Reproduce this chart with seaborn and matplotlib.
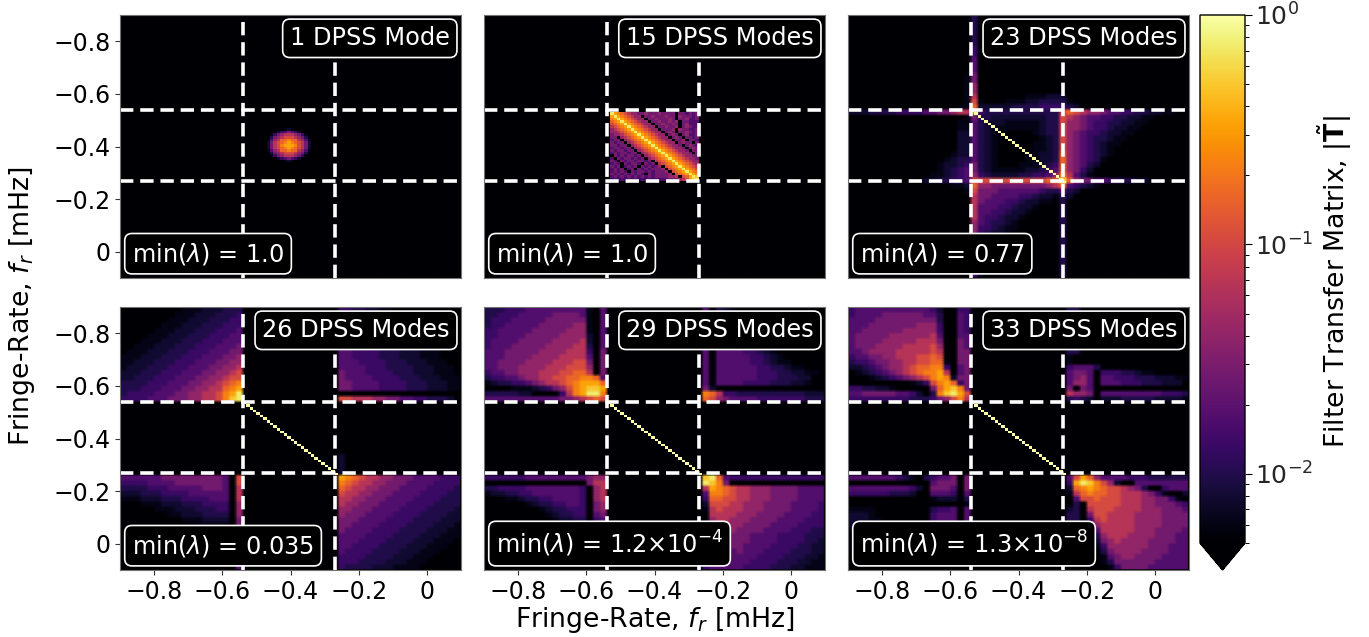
import numpy as np
import pandas as pd
import matplotlib
matplotlib.use("Agg")
import matplotlib.pyplot as plt
from matplotlib.colors import LogNorm
from matplotlib.cm import ScalarMappable
from matplotlib.collections import QuadMesh
from matplotlib.transforms import Affine2D
from matplotlib.ticker import NullFormatter, LogLocator
import seaborn as sns

sns.set_theme(style="ticks", font="DejaVu Sans")

# Estimated colour levels: one hex digit per cell.
LEVEL_VALUES = [0.004, 0.0062, 0.0078, 0.0098, 0.0130, 0.018, 0.027, 0.041,
                0.066, 0.105, 0.16, 0.23, 0.34, 0.50, 0.72, 0.99]

TITLES = ["1 DPSS Mode", "15 DPSS Modes", "23 DPSS Modes",
          "26 DPSS Modes", "29 DPSS Modes", "33 DPSS Modes"]
MIN_LAMBDA = [r"min($\lambda$) = 1.0", r"min($\lambda$) = 1.0", r"min($\lambda$) = 0.77",
              r"min($\lambda$) = 0.035", r"min($\lambda$) = 1.2$\times$10$^{-4}$",
              r"min($\lambda$) = 1.3$\times$10$^{-8}$"]
EDGES_MHZ = [-0.54, -0.27]
TICKS_MHZ = [-0.8, -0.6, -0.4, -0.2, 0.0]
TICK_LABELS = ["\u22120.8", "\u22120.6", "\u22120.4", "\u22120.2", "0"]

BLOB_1 = ["0000012100000", "0002456542000", "0146788876410", "0367899987630",
          "1578aabaa8751", "2689abcba9862", "2689bcccb9862", "2689abcba9862",
          "1578aabaa8751", "0367899987630", "0146788876410", "0002456542000",
          "0000012100000"]

BLOCK_15 = [
 "ecba9 87766 76667 66660 66565 6", "cecba 98770 66766 67660 76665 6",
 "bcecb a9877 06676 66760 66755 6", "abcec ba987 70667 66767 06655 5",
 "9abce cba98 77066 76676 06755 5", "89abc ecba9 87706 67667 06765 5",
 "789ab cecba 98770 66670 76655 6", "7789a bcecb a9877 06760 66765 6",
 "67789 abcec ba987 70676 06755 6", "66078 9abce cba98 77067 60665 6",
 "56607 89abc ecba9 87706 67066 5", "65660 789ab cecba 98770 67660 6",
 "66566 0789a bcecb a9877 60676 5", "56656 60789 abcec ba987 76067 6",
 "65665 66078 9abce cba98 77606 6", "56566 56607 89abc ecba9 87760 6",
 "06565 66560 789ab cecba 98776 6", "50656 65656 0789a bcecb a9877 6",
 "65065 66566 56089 abcec ba987 7", "56506 56650 65608 9abce cba98 7",
 "65605 65606 56567 09abc ecba9 8", "56560 56065 65666 709ab cecba 9",
 "56565 06566 56566 6709a bcecb a", "65656 56565 06566 66709 abcec b",
 "56565 65656 56566 66778 09ace d", "45454 54545 45454 55666 789cd e"]

# Rows are "left|middle|right" for the regions split by the two band edges.
ROWS_23 = [
 "|3|", "|3|", "|3|", "|3|", "|3|", "|3|", "|4|", "|4|", "|5|", "|5|", "|5|",
 "1|6|", "1|6|", "1|7|", "1|7|",
 "1|80000000111222|", "1|91000111223333|1", "11|a2222233334444|32",
 "222333344445566788|b4333333333339|a987765544332211",
 "1|63322222222339|8765544332211", "11|53222111112339|776544332211",
 "11|53211111112339|77654432211", "22|53210000012339|7654432211",
 "22|53210000001239|765433211", "22|53210000011239|76543211",
 "22|53210000011239|7654321", "122|5321000011223a|7654321",
 "1233|5321000011223a|765431", "12234|6321000111234a|76532",
 "12345|63211111223 45a|7642", "112345|74322223344 57b|8531",
 "2233445|99999999999aae|a766554433221 1", "112|a776666666678a|54321",
 "1|96665555554335|32", "|86655554432213|2", "|86555443221103|", "|85554432210003|",
 "|85544322100003|", "|85443221000003|", "|75433210000003|", "|74432110000003|",
 "|74322100000003|", "|64321000000003|", "|64211000000003|", "|63210000000003|",
 "|53100000000003|", "|52100000000003|", "|52000000000003|", "|51000000000003|",
 "|41000000000003|"]

ROWS_26 = [
 "000000000111222333||44332211", "000000001112223334||4433322111",
 "000000011122233344||44433322211", "000000111222333444||444333222111",
 "000001112223334445||4444333222111", "000011122233344455||54443332221111",
 "000111222333444555||544443332221110", "001112223334445556||5544433322211110",
 "011122233344455566||55444433322211100", "111222333444555667||554444333222111",
 "112223334445556677||555444433322211100", "122233344455566778||555544433332221110",
 "222333444555667789||655544443332221110", "223334445556677899||655554444333222111",
 "333344455566778 9ab||665555444433322211", "333444555667788abc||665555444433322211",
 "344445556677889bce||", "444455566677889bde||998887766554433 32",
 "||", "||", "||", "||", "||", "||", "||", "||", "||", "||",
 "||2", "||2", "||2", "||2",
 "555555666666666509||cba988776665555444", "444455556666666509||ba9887766655554444",
 "333344455555666508||a98877666555544443", "222333444455555508||988776665555444433",
 "111222333444455508||887766655554444333", "000111222333444407||877666555544443333",
 "000001112223334407||776665555444433332", "000000011222333307||766655554444333322",
 "000000000111222206||666555544443333222", "000000000001111106||665555444433332221",
 "6||655554444333322211", "6||555544443333222111", "5||555444433332221110",
 "5||554444333322211100", "5||544443333222111000", "5||444433332221110000",
 "5||444333322211100000", "5||433332221111000000"]

ROWS_29 = [
 "333444555555555105||50321", "334445555566665105||503321", "344455555666666105||5034321",
 "344555556666677105||5034432", "445555566666777105||50454321", "445555666667777205||504554321",
 "455556666677778205||505555321", "455566666777788305||5055554321",
 "555666667777888406||50555544321", "555666677778888506||505555544321",
 "556666777788899606||5055555443211", "556667777888999706||505555554433211",
 "455667778889 9aa806||50555555444332211", "344556778899aabba5||5055555544433322",
 "123344567889abcc ca||5055554444333221", "000011123467 9bcddc||62",
 "333332200004 8bceeb||ba8443333333333222", "555555555556 6789a9||a97655554444444333",
 "||", "||", "||", "||", "||", "||", "||", "||", "||", "||", "||", "||", "||", "||",
 "444444555555555677||dea544444444444444", "000000000000000688||edb6",
 "334444555555554078||8cba98877766665555", "122334455555554078||5bba98877766665555",
 "000112334455554078||4aa99887776666 5555", "000000123344554067||299988777666655554",
 "000000001233444067||189888777666655554", "000000000123344056||088887776666555544",
 "000000000012233045||078877766665555444", "000000000001122034||067777666655554444",
 "3||167776666555544433", "||366666655554444333", "||456666655554444332",
 "||455666555544443322", "||455556555444433322", "||455555554444333221",
 "||455555544443332211", "||455555444433322111"]

ROWS_33 = [
 "455555555555420044||330", "455556666665530054||330", "555566666666630054||330",
 "555666666677740054||330", "556666667777740054||330", "566666777777850055||330",
 "566667777788860065||330", "566677778888970065||330", "556777788888980066||33",
 "455667788899a90066||1", "344566778899aa1066||1", "2234567789aabb4056||45553",
 "0123456789abbc8056||5665044433211", "000123456789bcb266||567505544433322211",
 "000000000124 9bca46||577505554443332 22", "443322100000 6acdb6||606500000000000000",
 "556666655420 3bdec9||877605555555554443", "444444444333 4679b8||343202223333322221",
 "||", "||", "||", "||", "||", "||", "||", "||", "||", "||", "||", "||", "||", "||",
 "555555543103455606||59ca75555444333333", "000000000000566606||4cedb97200 55555555",
 "555555555420666506||2abcba9987630045 55", "444444333200555405||18abaa9988876 41002",
 "000000000000122203||0599a9998887766410", "000000000000000001||030999998887766654",
 "111100000000344505||230899988887776665", "222100000000455505||330699888877776666",
 "222110000000455505||330489888877776666", "222100000000344404||320278888877776666",
 "111000000000233304||310058888877766665", "000000000000122204||301337888777766655",
 "||201026787777666655", "||101014777777666555", "||000003677776666555",
 "||000001567766665555", "||000001366666655555", "||000000146666555555"]

DIAG_ROWS = {2: "efffffffffffffffffffffffffff", 3: "ffffffffffffffffffffffffffff",
             4: "ffffffffffffffffffffffffffff", 5: "ffffffffffffffffffffffffffff"}

PANEL_ROWS = {2: ROWS_23, 3: ROWS_26, 4: ROWS_29, 5: ROWS_33}

N_COARSE = 50
SPLIT = (18, 14, 18)


def coarse_grid(rows):
    out = np.zeros((N_COARSE, N_COARSE), dtype=int)
    for j, row in enumerate(rows[:N_COARSE]):
        a, b, c = row.replace(" ", "").split("|")
        text = (a.rjust(SPLIT[0], "0")[-SPLIT[0]:] + b.ljust(SPLIT[1], "0")[:SPLIT[1]]
                + c.ljust(SPLIT[2], "0")[:SPLIT[2]])
        out[j] = [int(ch, 16) for ch in text]
    return out


def put_block(grid, rows, start):
    for r, row in enumerate(rows):
        for c, ch in enumerate(row.replace(" ", "")):
            grid[start + r, start + c] = int(ch, 16)


def base_values(k):
    if k in PANEL_ROWS:
        grid = np.repeat(np.repeat(coarse_grid(PANEL_ROWS[k]), 2, axis=0), 2, axis=1)
    else:
        grid = np.zeros((100, 100), dtype=int)
    return pd.DataFrame(np.array(LEVEL_VALUES)[grid])


def fine_values(k):
    """Cells drawn sharply on top; -1 marks a cell without a fine value."""
    grid = np.full((100, 100), -1, dtype=int)
    if k == 0:
        put_block(grid, BLOB_1, 43)
    if k == 1:
        put_block(grid, BLOCK_15, 37)
    if k in DIAG_ROWS:
        for n, ch in enumerate(DIAG_ROWS[k]):
            grid[36 + n, 36 + n] = int(ch, 16)
    mask = grid < 0
    vals = np.array(LEVEL_VALUES)[np.where(mask, 0, grid)]
    return pd.DataFrame(vals), mask


W, H = 1369, 637
fig = plt.figure(figsize=(W / 100, H / 100), dpi=100)
norm = LogNorm(vmin=0.005, vmax=1.0)
FS = 17


def cell(f):
    return (f + 0.9) / 0.01


lefts = [120, 484, 848]
tops = [15, 307]
for k in range(6):
    col, row = k % 3, k // 3
    ax = fig.add_axes([lefts[col] / W, 1 - (tops[row] + 263) / H, 341 / W, 263 / H])
    ax.set_facecolor("black")
    sns.heatmap(base_values(k), ax=ax, cmap="inferno", norm=norm, cbar=False,
                xticklabels=False, yticklabels=False, shading="gouraud")
    for m in ax.collections:
        if isinstance(m, QuadMesh):
            m.set_transform(Affine2D().translate(0.5, 0.5) + ax.transData)
    fine, fine_mask = fine_values(k)
    sns.heatmap(fine, mask=fine_mask, ax=ax, cmap="inferno", norm=norm, cbar=False,
                xticklabels=False, yticklabels=False)
    for s in ax.spines.values():
        s.set_visible(True)
        s.set_color("0.45")
        s.set_linewidth(0.8)
    for e in EDGES_MHZ:
        ax.axvline(cell(e), color="white", lw=2.6, ls="--", dashes=(3.7, 1.9))
        ax.axhline(cell(e), color="white", lw=2.6, ls="--", dashes=(3.7, 1.9))
    if col == 0:
        ax.set_yticks([cell(t) for t in TICKS_MHZ])
        ax.set_yticklabels(TICK_LABELS, fontsize=FS, rotation=0, color="black")
    if row == 1:
        ax.set_xticks([cell(t) for t in TICKS_MHZ])
        ax.set_xticklabels(TICK_LABELS, fontsize=FS, rotation=0, color="black")
    ax.tick_params(length=3.5, width=0.8, color="0.2", pad=3.5)
    ax.set_xlabel("")
    ax.set_ylabel("")
    box = dict(boxstyle="round,pad=0.3", fc="black", ec="white", lw=1.2)
    ax.text(0.967, 0.957, TITLES[k], transform=ax.transAxes, ha="right", va="top",
            color="white", fontsize=17.3, bbox=box, zorder=6)
    ax.text(0.035, 0.043, MIN_LAMBDA[k], transform=ax.transAxes, ha="left", va="bottom",
            color="white", fontsize=17.3, bbox=box, zorder=6)

cax = fig.add_axes([1200 / W, 1 - 570 / H, 45 / W, 555 / H])
cb = fig.colorbar(ScalarMappable(norm=norm, cmap="inferno"), cax=cax, extend="min",
                  extendfrac=27 / 528)
cb.set_ticks([1.0, 0.1, 0.01])
cb.ax.yaxis.set_minor_locator(LogLocator(base=10, subs=np.arange(2, 10) * 0.1, numticks=12))
cb.ax.yaxis.set_minor_formatter(NullFormatter())
cb.ax.tick_params(labelsize=FS + 1, length=5, width=0.8, color="black", pad=2)
cb.ax.tick_params(which="minor", length=3, width=0.7, color="black")
cb.outline.set_edgecolor("black")
cb.outline.set_linewidth(1.0)

fig.text(1335 / W, 1 - 282 / H, r"Filter Transfer Matrix, $|\tilde{\mathbf{T}}|$", rotation=90,
         ha="center", va="center", fontsize=19.3, color="black")
fig.text(22 / W, 1 - 306 / H, r"Fringe-Rate, $f_r$ [mHz]", rotation=90,
         ha="center", va="center", fontsize=19.3, color="black")
fig.text(655 / W, 1 - 620 / H, r"Fringe-Rate, $f_r$ [mHz]",
         ha="center", va="center", fontsize=19.3, color="black")

fig.savefig("out.png", dpi=100, facecolor="white")
